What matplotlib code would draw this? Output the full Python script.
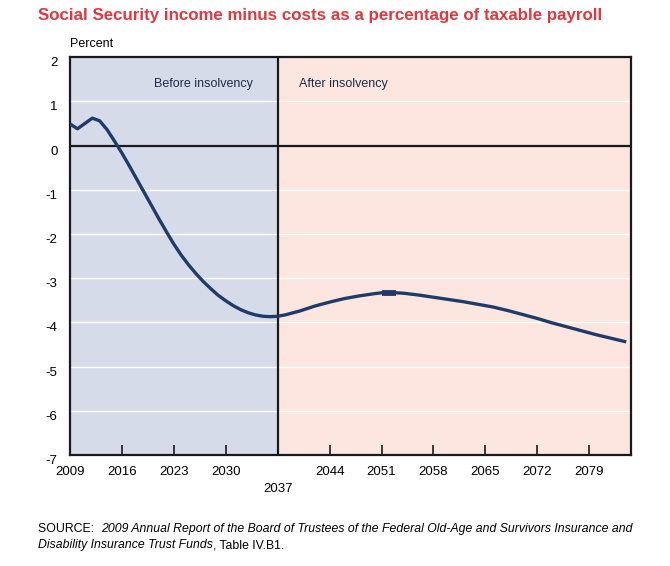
import matplotlib.pyplot as plt
from matplotlib.ticker import FixedLocator

plt.rcParams["font.family"] = ["Liberation Sans", "DejaVu Sans"]

# Income minus cost, percent of taxable payroll
years = [2009, 2010, 2011, 2012, 2013, 2014, 2015, 2016, 2017, 2018,
         2019, 2020, 2021, 2022, 2023, 2024, 2025, 2026, 2027, 2028,
         2029, 2030, 2031, 2032, 2033, 2034, 2035, 2036, 2037, 2038,
         2040, 2042, 2044, 2046, 2048, 2050, 2051, 2052, 2053, 2054,
         2056, 2058, 2060, 2062, 2064, 2066, 2068, 2070, 2072, 2074,
         2076, 2078, 2080, 2082, 2084]
balance = [0.49, 0.38, 0.50, 0.62, 0.56, 0.36, 0.10, -0.17, -0.46, -0.76,
           -1.06, -1.36, -1.66, -1.95, -2.23, -2.48, -2.70, -2.90, -3.08, -3.24,
           -3.39, -3.51, -3.62, -3.71, -3.78, -3.83, -3.86, -3.87, -3.86, -3.83,
           -3.74, -3.63, -3.54, -3.46, -3.40, -3.35, -3.33, -3.33, -3.33, -3.34,
           -3.38, -3.43, -3.48, -3.53, -3.59, -3.65, -3.73, -3.82, -3.91, -4.01,
           -4.10, -4.19, -4.28, -4.36, -4.44]

insolvency_year = 2037
plateau = (2051, 2053)
major_years = [2009, 2016, 2023, 2030, 2044, 2051, 2058, 2065, 2072, 2079]
y_ticks = [2, 1, 0, -1, -2, -3, -4, -5, -6, -7]

title = "Social Security income minus costs as a percentage of taxable payroll"
navy = "#1f3c68"

fig = plt.figure(figsize=(6.7, 5.66), dpi=100, facecolor="white")
ax = fig.add_axes([0.1045, 0.196, 0.838, 0.703])

x_lo, x_hi = 2009, 2084.7
ax.set_xlim(x_lo, x_hi)
ax.set_ylim(-7, 2)

# shaded periods, grid, zero line and insolvency divider
ax.axvspan(x_lo, insolvency_year, color="#d5dbe8", zorder=0)
ax.axvspan(insolvency_year, x_hi, color="#fce6df", zorder=0)
for v in y_ticks:
    if v not in (2, 0, -7):
        ax.axhline(v, color="white", lw=1.0, zorder=1)
ax.axhline(0, color="#1a1a1a", lw=1.6, zorder=2)
ax.axvline(insolvency_year, color="#1a1a1a", lw=1.6, zorder=2)

ax.plot(years, balance, color=navy, lw=2.4, zorder=3, solid_capstyle="butt")
seg = [(y, b) for y, b in zip(years, balance) if plateau[0] <= y <= plateau[1]]
ax.plot([s[0] for s in seg], [s[1] for s in seg], color=navy, lw=4.2,
        zorder=3, solid_capstyle="butt")

ax.text(2033.6, 1.4, "Before insolvency", ha="right", va="center",
        fontsize=9, color="#1c2e4a")
ax.text(2039.9, 1.4, "After insolvency", ha="left", va="center",
        fontsize=9, color="#1c2e4a")

for s in ax.spines.values():
    s.set_linewidth(1.6)
    s.set_color("#1a1a1a")

ax.set_yticks(y_ticks)
ax.set_yticklabels([str(v) for v in y_ticks])
ax.tick_params(axis="y", length=0, pad=9, labelsize=9.5)
for lab in ax.get_yticklabels():
    lab.set_verticalalignment("top")

ax.xaxis.set_major_locator(FixedLocator(major_years))
ax.xaxis.set_minor_locator(FixedLocator([insolvency_year]))
ax.set_xticklabels([str(y) for y in major_years])
ax.set_xticklabels([str(insolvency_year)], minor=True)
ax.tick_params(axis="x", which="both", direction="in", length=7, width=1.2,
               color="#1a1a1a", labelsize=9.5)
ax.tick_params(axis="x", which="major", pad=8)
ax.tick_params(axis="x", which="minor", pad=20)

fig.text(0.057, 0.985, title, ha="left", va="top", fontsize=12.2,
         fontweight="bold", color="#e0383e")
fig.text(0.1045, 0.912, "Percent", ha="left", va="bottom", fontsize=9)

# source note: mixed upright / italic pieces chained together
t1 = fig.text(0.057, 0.06, "SOURCE:  ", ha="left", va="baseline", fontsize=8.8)
ax.annotate("2009 Annual Report of the Board of Trustees of the Federal "
            "Old-Age and Survivors Insurance and",
            xy=(1, 0), xycoords=t1, va="bottom", ha="left",
            fontsize=8.8, style="italic", annotation_clip=False)
t3 = fig.text(0.057, 0.031, "Disability Insurance Trust Funds", ha="left",
              va="baseline", fontsize=8.8, style="italic")
ax.annotate(", Table IV.B1.", xy=(1, 0), xycoords=t3, va="bottom", ha="left",
            fontsize=8.8, annotation_clip=False)

fig.savefig("out.png", dpi=100, facecolor="white")
